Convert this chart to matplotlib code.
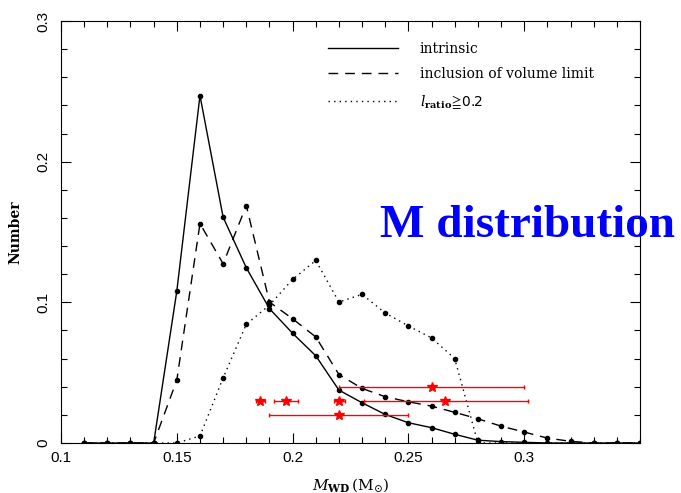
import numpy as np
import matplotlib
matplotlib.use('Agg')
import matplotlib.pyplot as plt
from matplotlib.ticker import MultipleLocator

plt.rcParams['mathtext.fontset'] = 'dejavuserif'

# mass grid (Msun)
mwd = [0.11, 0.12, 0.13, 0.14, 0.15, 0.16, 0.17, 0.18, 0.19, 0.20, 0.21, 0.22, 0.23,
       0.24, 0.25, 0.26, 0.27, 0.28, 0.29, 0.30, 0.31, 0.32, 0.33, 0.34, 0.35]

intrinsic = [0, 0, 0, 0, 0.108, 0.247, 0.1605, 0.1246, 0.0955, 0.078, 0.062, 0.0376, 0.0286,
             0.0203, 0.0144, 0.0109, 0.0062, 0.002, 0.001, 0.0005, 0, 0, 0, 0, 0]
vol_limit = [0, 0, 0, 0, 0.0447, 0.156, 0.1274, 0.1688, 0.1002, 0.0883, 0.0754, 0.0487, 0.0388,
             0.0329, 0.0293, 0.0262, 0.0218, 0.0172, 0.012, 0.0078, 0.0035, 0.0012, 0, 0, 0]
l_ratio = [0, 0, 0, 0, 0, 0.005, 0.0463, 0.0844, 0.098, 0.1163, 0.1298, 0.1002, 0.1057,
           0.0924, 0.0832, 0.0747, 0.060, 0, 0, 0, 0, 0, 0, 0, 0]

# observed systems (red stars)
obs_m = [0.186, 0.197, 0.22, 0.22, 0.26, 0.266]
obs_lo = [0.184, 0.192, 0.218, 0.19, 0.22, 0.231]
obs_hi = [0.188, 0.2025, 0.2225, 0.25, 0.30, 0.3015]
obs_y = [0.03, 0.03, 0.03, 0.02, 0.04, 0.03]

fig = plt.figure(figsize=(6.81, 4.93), dpi=100)
ax = fig.add_axes([0.0896, 0.1014, 0.8502, 0.856])

ax.plot(mwd, intrinsic, '-', color='k', lw=1, marker='o', ms=3, label='intrinsic')
ax.plot(mwd, vol_limit, color='k', lw=1, dashes=(7, 5), marker='o', ms=3,
        label='inclusion of volume limit')
ax.plot(mwd, l_ratio, color='k', lw=1, ls=(0, (1, 3)), marker='o', ms=3,
        label=r'$l_{\mathbf{ratio}}\!\geqq\!\mathsf{0.2}$')

m = np.array(obs_m)
xerr = [m - np.array(obs_lo), np.array(obs_hi) - m]
ax.errorbar(obs_m, obs_y, xerr=xerr, fmt='*', color='red', ms=7, lw=1,
            capsize=1.5, capthick=1)

ax.set_xlim(0.1, 0.35)
ax.set_ylim(0, 0.3)
ax.xaxis.set_major_locator(MultipleLocator(0.05))
ax.xaxis.set_minor_locator(MultipleLocator(0.01))
ax.yaxis.set_major_locator(MultipleLocator(0.1))
ax.yaxis.set_minor_locator(MultipleLocator(0.02))
ax.tick_params(which='both', direction='in', top=True, right=True, width=0.8)
ax.tick_params(which='major', length=7)
ax.tick_params(which='minor', length=4)
ax.set_xticks([0.1, 0.15, 0.2, 0.25, 0.3])
ax.set_xticklabels(['0.1', '0.15', '0.2', '0.25', '0.3'], family='Liberation Sans', fontsize=11)
ax.set_yticks([0, 0.1, 0.2, 0.3])
ax.set_yticklabels(['0', '0.1', '0.2', '0.3'], family='Liberation Sans', fontsize=11,
                   rotation=90, va='center')
ax.tick_params(axis='x', pad=6)
ax.tick_params(axis='y', pad=8)

ax.set_xlabel(r'$M_{\mathbf{WD}}\,(\mathrm{M}_{\odot})$', family='DejaVu Serif', fontsize=11,
              labelpad=8)
ax.set_ylabel('Number', family='DejaVu Serif', fontweight='bold', fontsize=10, labelpad=10)

leg = ax.legend(loc='upper left', bbox_to_anchor=(0.44, 0.981), frameon=False,
                prop={'family': 'DejaVu Serif', 'size': 10},
                handlelength=5.0, handletextpad=1.6, labelspacing=0.85)
for h in leg.legend_handles:
    h.set_marker('')

ax.text(0.551, 0.488, 'M distribution', transform=ax.transAxes, color='blue',
        family='Liberation Serif', fontweight='bold', fontsize=34, va='baseline',
        clip_on=False)

fig.savefig('out.png', dpi=100)
